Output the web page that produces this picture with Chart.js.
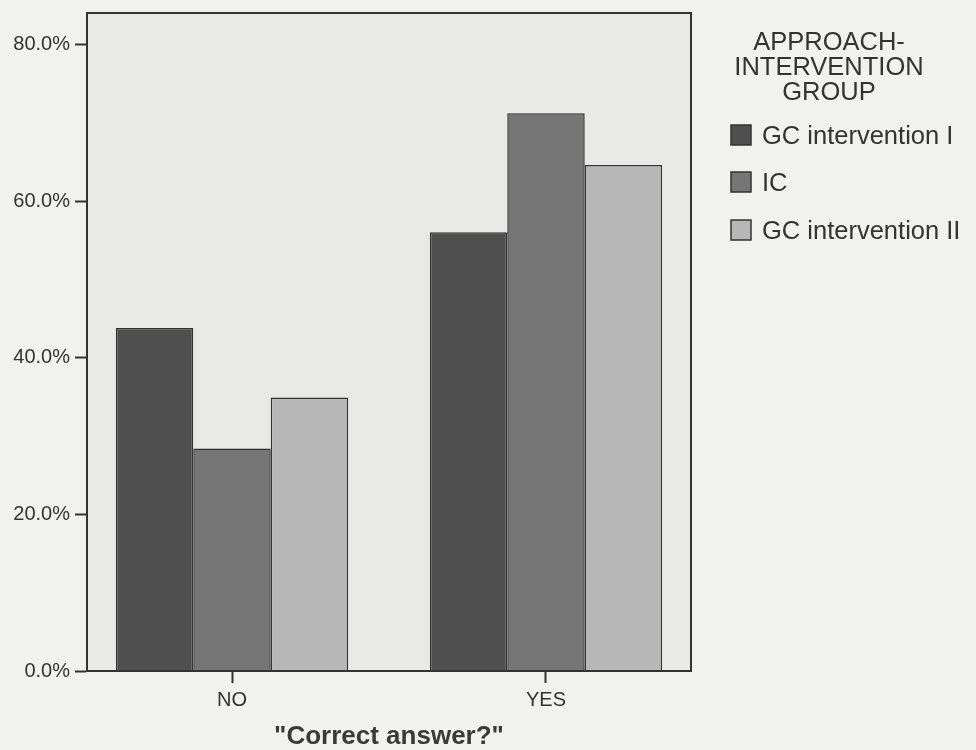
<!DOCTYPE html>
<html>
<head>
<meta charset="utf-8">
<script src="https://cdn.jsdelivr.net/npm/chart.js@4/dist/chart.umd.min.js"></script>
<style>
  html, body { margin: 0; padding: 0; background: #f1f1f0; }
  #wrap { width: 976px; height: 750px; position: relative; }
</style>
</head>
<body>
<div id="wrap"><canvas id="c" width="976" height="750"></canvas></div>
<script>
const categories = ['NO', 'YES'];
const seriesNames = ['GC intervention I', 'IC', 'GC intervention II'];
const gcInterventionI = [43.8, 56.0];
const icValues = [28.4, 71.2];
const gcInterventionII = [34.9, 64.6];
const yTicks = [0, 20, 40, 60, 80];
const legendTitle = ['APPROACH-', 'INTERVENTION', 'GROUP'];
const xTitle = '"Correct answer?"';

const colors = ['#4f4f4f', '#767676', '#b7b7b7'];
const FONT = "'Liberation Sans', Arial, sans-serif";

const framePlugin = {
  id: 'frame',
  beforeDraw(chart) {
    const {ctx, chartArea: a} = chart;
    ctx.save();
    ctx.fillStyle = '#e9e9e8';
    ctx.fillRect(a.left, a.top, a.right - a.left, a.bottom - a.top);
    ctx.restore();
  },
  afterDatasetsDraw(chart) {
    const {ctx, chartArea: a} = chart;
    ctx.save();
    ctx.strokeStyle = '#333';
    ctx.lineWidth = 2;
    ctx.strokeRect(a.left, a.top, a.right - a.left, a.bottom - a.top);
    ctx.restore();
  }
};

const legendPlugin = {
  id: 'customLegend',
  afterDraw(chart) {
    const {ctx} = chart;
    ctx.save();
    ctx.fillStyle = '#333';
    ctx.font = '25.5px ' + FONT;
    ctx.textAlign = 'center';
    ctx.textBaseline = 'middle';
    const tY = [43, 68, 93];
    legendTitle.forEach((t, i) => ctx.fillText(t, 829, tY[i]));
    ctx.textAlign = 'left';
    ctx.font = '25.5px ' + FONT;
    const iY = [135, 182, 230];
    chart.data.datasets.forEach((ds, i) => {
      ctx.fillStyle = ds.backgroundColor;
      ctx.fillRect(731, iY[i] - 10, 20, 20);
      ctx.strokeStyle = '#333';
      ctx.lineWidth = 1.5;
      ctx.strokeRect(731, iY[i] - 10, 20, 20);
      ctx.fillStyle = '#333';
      ctx.fillText(ds.label, 762, iY[i] + 2);
    });
    ctx.restore();
  }
};

const seriesData = [gcInterventionI, icValues, gcInterventionII];

new Chart(document.getElementById('c'), {
  type: 'bar',
  data: {
    datasets: seriesData.map((d, i) => ({
      label: seriesNames[i],
      data: d.map((v, j) => ({ x: j, y: v })),
      backgroundColor: colors[i],
      borderColor: '#333',
      borderWidth: 1.5,
      categoryPercentage: 0.74,
      barPercentage: 1.0
    }))
  },
  options: {
    responsive: false,
    animation: false,
    devicePixelRatio: 1,
    layout: { padding: { left: 0, top: 13, right: 285, bottom: 0 } },
    plugins: { legend: { display: false }, tooltip: { enabled: false } },
    scales: {
      x: {
        type: 'linear',
        min: -0.4618,
        max: 1.4618,
        offset: false,
        afterFit(scale) { scale.height = 79; scale.paddingLeft = 0; scale.paddingRight = 0; },
        afterBuildTicks(scale) { scale.ticks = categories.map((c, j) => ({ value: j })); },
        grid: { offset: false, drawOnChartArea: false, drawTicks: true, tickLength: 12, tickColor: '#333', tickWidth: 2 },
        border: { display: true, color: '#333', width: 2 },
        ticks: { color: '#333', font: { family: FONT, size: 20 }, padding: 5, callback: v => categories[v] },
        title: { display: true, text: xTitle, color: '#3a3a3a', font: { family: FONT, size: 26, weight: 'bold', lineHeight: 1 }, padding: { top: 0, bottom: 0 } }
      },
      y: {
        min: 0,
        max: 84,
        afterFit(scale) { scale.width = 87; scale.paddingTop = 0; scale.paddingBottom = 0; },
        afterBuildTicks(scale) { scale.ticks = yTicks.map(v => ({ value: v })); },
        grid: { drawOnChartArea: false, drawTicks: true, tickLength: 12, tickColor: '#333', tickWidth: 2 },
        border: { display: true, color: '#333', width: 2 },
        ticks: { color: '#333', font: { family: FONT, size: 20 }, padding: 5, callback: v => v.toFixed(1) + '%' }
      }
    }
  },
  plugins: [framePlugin, legendPlugin]
});
</script>
</body>
</html>
